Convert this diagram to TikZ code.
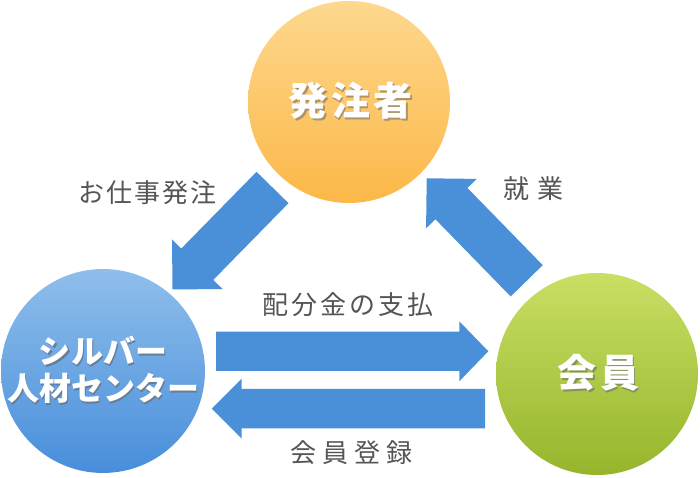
\documentclass[tikz,border=0pt]{standalone}
\usepackage{fontspec}
\newfontfamily\jp{Noto Sans CJK JP}
\usetikzlibrary{calc}
\definecolor{arrowblue}{RGB}{74,144,217}
\definecolor{labelgray}{RGB}{85,85,85}
\definecolor{orangetop}{RGB}{253,216,142}
\definecolor{orangebot}{RGB}{252,184,72}
\definecolor{bluetop}{RGB}{143,190,235}
\definecolor{bluebot}{RGB}{72,142,219}
\definecolor{greentop}{RGB}{200,223,100}
\definecolor{greenbot}{RGB}{150,181,44}
\newcommand{\shtext}[2]{\makebox[0pt][l]{\hspace{1.6pt}\raisebox{-1.6pt}{\color{#1}#2}}#2}
\newcommand{\blockarrow}[5]{%
  \coordinate (ba-base) at ($(#2)!#5!(#1)$);
  \fill[arrowblue] ($(#1)!#3!90:(#2)$) -- ($(ba-base)!#3!90:(#2)$) -- ($(ba-base)!#4!90:(#2)$)
    -- (#2) -- ($(ba-base)!#4!-90:(#2)$) -- ($(ba-base)!#3!-90:(#2)$) -- ($(#1)!#3!-90:(#2)$) -- cycle;}
\tikzset{
  party/.style={circle, minimum size=202pt, inner sep=0pt, text=white, align=center},
  flowlabel/.style={text=labelgray, inner sep=0pt, font=\jp\fontsize{26}{31}\selectfont}
}
\begin{document}
\begin{tikzpicture}[x=1pt,y=1pt]
\useasboundingbox[fill=white] (0,0) rectangle (700,478);
% parties
\node[party, top color=orangetop, bottom color=orangebot,
      font=\jp\bfseries\fontsize{39}{45}\selectfont] (order) at (349,376)
  {\addfontfeature{LetterSpace=9}\hspace*{3.5pt}\shtext{orangebot!55!black!70}{発注者}};
\node[party, top color=bluetop, bottom color=bluebot,
      font=\jp\bfseries\fontsize{32}{37}\selectfont] (center) at (103,107)
  {\shtext{bluebot!50!black!70}{シルバー}\\
   \shtext{bluebot!50!black!70}{人材センター}};
\node[party, top color=greentop, bottom color=greenbot,
      font=\jp\bfseries\fontsize{39}{45}\selectfont] (member) at (597,104)
  {\addfontfeature{LetterSpace=8}\hspace*{3pt}\shtext{greenbot!55!black!70}{会員}};
% arrow end points
\coordinate (a1tail) at (272.5,290.5);
\coordinate (a1tip)  at (172.5,188.5);
\coordinate (a2tail) at (526.7,197.2);
\coordinate (a2tip)  at (426.7,299.7);
\coordinate (a3tail) at (216,126.7);
\coordinate (a3tip)  at (488.3,126.7);
\coordinate (a4tail) at (485,69.3);
\coordinate (a4tip)  at (211.7,69.3);
\blockarrow{a1tail}{a1tip}{22.4pt}{35.4pt}{35.4pt}
\blockarrow{a2tail}{a2tip}{22.4pt}{35.4pt}{35.4pt}
\blockarrow{a3tail}{a3tip}{19.7pt}{30pt}{29pt}
\blockarrow{a4tail}{a4tip}{19.7pt}{30pt}{30pt}
% labels
\node[flowlabel] (lorder) at (146.5,285.5) {\addfontfeature{LetterSpace=8}\hspace*{2pt}お仕事発注};
\node[flowlabel] (lpay) at (346.5,173) {\addfontfeature{LetterSpace=12}\hspace*{3pt}配分金の支払};
\node[flowlabel] (lreg) at (348.5,25.5) {\addfontfeature{LetterSpace=23}\hspace*{6pt}会員登録};
\node[flowlabel] (lwork) at (529.5,289.5) {\addfontfeature{LetterSpace=31}\hspace*{8pt}就業};
\end{tikzpicture}
\end{document}
